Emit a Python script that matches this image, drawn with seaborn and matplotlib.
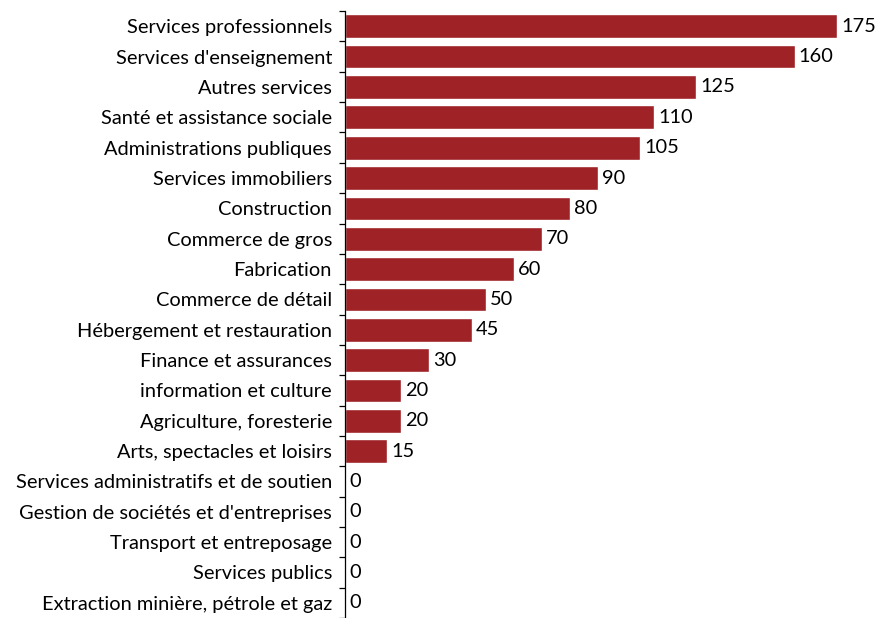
import numpy as np
import pandas as pd
import matplotlib
matplotlib.use('Agg')
import matplotlib.pyplot as plt
import seaborn as sns
from matplotlib.ticker import FixedLocator

categories = [
    'Services professionnels',
    "Services d'enseignement",
    'Autres services',
    'Santé et assistance sociale',
    'Administrations publiques',
    'Services immobiliers',
    'Construction',
    'Commerce de gros',
    'Fabrication',
    'Commerce de détail',
    'Hébergement et restauration',
    'Finance et assurances',
    'information et culture',
    'Agriculture, foresterie',
    'Arts, spectacles et loisirs',
    'Services administratifs et de soutien',
    "Gestion de sociétés et d'entreprises",
    'Transport et entreposage',
    'Services publics',
    'Extraction minière, pétrole et gaz',
]
values = [175, 160, 125, 110, 105, 90, 80, 70, 60, 50, 45, 30, 20, 20, 15, 0, 0, 0, 0, 0]

df = pd.DataFrame({'secteur': categories, 'valeur': values})

sns.set_style('white')
plt.rcParams['font.family'] = ['Lato', 'DejaVu Sans']
plt.rcParams['text.color'] = 'black'
plt.rcParams['ytick.color'] = 'black'
plt.rcParams['ytick.labelcolor'] = 'black'

fig = plt.figure(figsize=(8.76, 6.18), dpi=100)
ax = fig.add_axes([0.394, 0.0, 0.59, 0.982])

sns.barplot(data=df, y='secteur', x='valeur', orient='h', color='#9E2226',
            saturation=1, width=0.78, ax=ax)

ax.set_xlim(0, 184)
ax.set_ylim(len(categories) - 0.5, -0.5)
ax.set_xlabel('')
ax.set_ylabel('')
ax.set_xticks([])

for s in ['top', 'right', 'bottom']:
    ax.spines[s].set_visible(False)
ax.spines['left'].set_color('#000000')
ax.spines['left'].set_linewidth(0.9)

# graduations entre les catégories
ax.yaxis.set_minor_locator(FixedLocator(np.arange(-0.5, len(categories), 1.0)))
ax.tick_params(axis='y', which='major', length=0, pad=9.5, labelsize=14.4,
               labelcolor='black')
ax.tick_params(axis='y', which='minor', length=4, width=0.9, color='#000000', left=True)

for i, v in enumerate(values):
    ax.text(v + 1.5, i, f'{v}', va='center', ha='left', fontsize=14.4, color='black')

plt.savefig('out.png', dpi=100)
plt.close()
